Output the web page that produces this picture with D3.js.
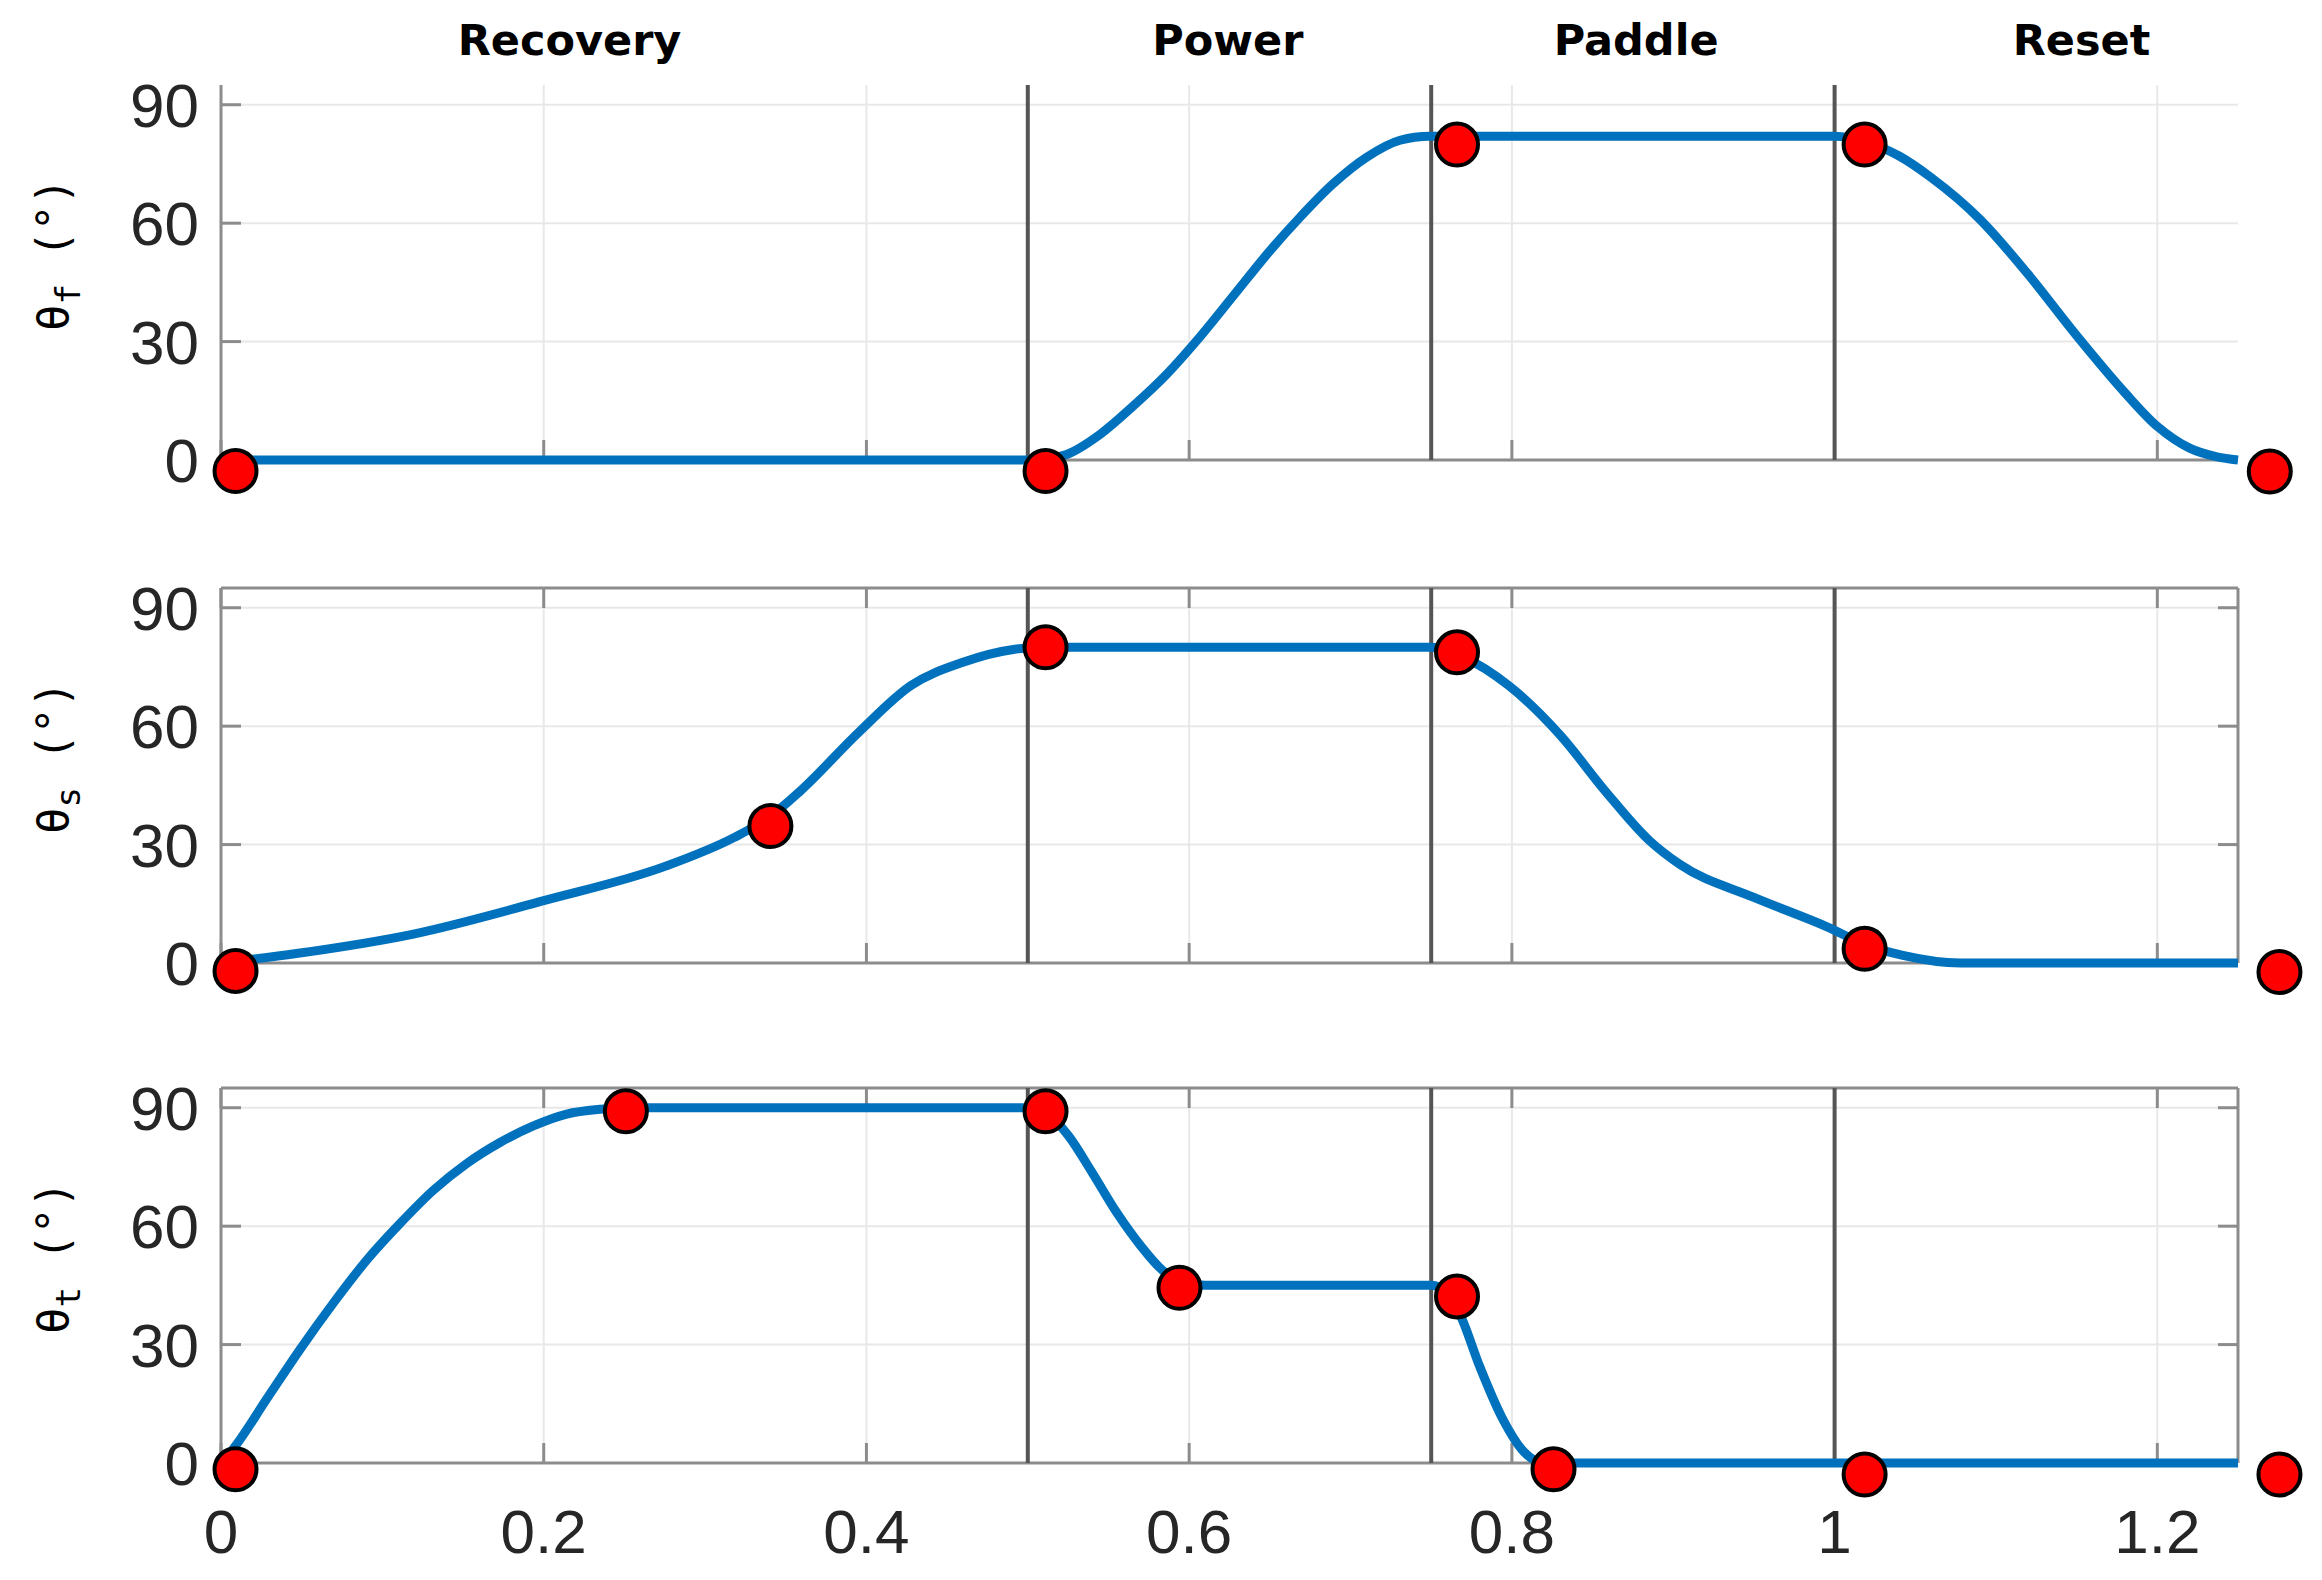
<!DOCTYPE html>
<html>
<head>
<meta charset="utf-8">
<script src="https://cdn.jsdelivr.net/npm/d3@7/dist/d3.min.js"></script>
<style>
  html, body { margin: 0; padding: 0; background: #ffffff; }
  svg { display: block; }
</style>
</head>
<body>
<script>
// ---------- data ----------
const xTicks = [0, 0.2, 0.4, 0.6, 0.8, 1, 1.2];
const xTickLabels = ["0", "0.2", "0.4", "0.6", "0.8", "1", "1.2"];
const yTicks = [0, 30, 60, 90];
const yTickLabels = ["0", "30", "60", "90"];
const phaseBounds = [0.5, 0.75, 1.0];
const phaseNames = ["Recovery", "Power", "Paddle", "Reset"];
const phaseLabelX = [0.216, 0.624, 0.877, 1.153];

const thetaF_t = [0, 0.5, 0.512, 0.524, 0.5448, 0.5654, 0.586, 0.6067, 0.6274, 0.648, 0.6687, 0.6893, 0.710, 0.7307, 0.749, 1.0, 1.02, 1.04, 1.06, 1.09, 1.12, 1.15, 1.18, 1.2, 1.22, 1.237, 1.25];
const thetaF_v = [0, 0, 0.3, 1.4, 6.5, 13.7, 21.7, 31.2, 41.6, 52.0, 61.5, 70.0, 76.7, 81.0, 82, 82, 80.5, 77, 71.5, 61, 47, 31.5, 17, 8.5, 3, 0.8, 0];
const thetaF_mt = [0.009, 0.511, 0.766, 1.0186, 1.2697];
const thetaF_mv = [-2.8, -2.8, 79.9, 79.9, -2.9];

const thetaS_t = [0, 0.0467, 0.12, 0.2, 0.276, 0.3175, 0.34, 0.3588, 0.3956, 0.4276, 0.4598, 0.492, 0.51, 0.75, 0.77, 0.798, 0.83, 0.858, 0.8855, 0.904, 0.95, 0.9957, 1.02, 1.0416, 1.078, 1.25];
const thetaS_v = [0, 2.4, 7.4, 15.8, 24.6, 31.7, 37, 43.5, 58.6, 70.3, 76.2, 79.5, 80, 80, 77.5, 70.3, 57.7, 43.5, 30.9, 25, 16.6, 9.1, 4.5, 2, 0, 0];
const thetaS_mt = [0.009, 0.3405, 0.511, 0.766, 1.0186, 1.2757];
const thetaS_mv = [-2.0, 34.7, 80.0, 78.7, 3.6, -2.3];

const thetaT_t = [0, 0.0076, 0.0283, 0.049, 0.0696, 0.0903, 0.111, 0.1316, 0.152, 0.1729, 0.1936, 0.2142, 0.2349, 0.2556, 0.5, 0.512, 0.525, 0.54, 0.555, 0.57, 0.583, 0.595, 0.61, 0.75, 0.76, 0.768, 0.78, 0.794, 0.8075, 0.82, 1.25];
const thetaT_v = [0, 3.6, 16.2, 28.8, 40.5, 51.4, 60.7, 69.1, 75.8, 81.2, 85.4, 88.4, 89.6, 90, 90, 88.5, 83, 73.5, 63.5, 55, 49, 46, 45, 45, 43, 37.5, 24.5, 11.4, 2.8, 0, 0];
const thetaT_mt = [0.009, 0.2509, 0.511, 0.594, 0.766, 0.8258, 1.0186, 1.2757];
const thetaT_mv = [-1.6, 89.1, 89.1, 44.4, 42.2, -1.6, -2.9, -2.9];

const panelSub = ["f", "s", "t"];

// ---------- layout ----------
const W = 2322, H = 1580;
const left = 221, right = 2238;
const panelTops = [85, 588, 1088];
const panelH = 375;
const fullBox = [false, true, true];

const svg = d3.select("body").append("svg").attr("width", W).attr("height", H);

const x = d3.scaleLinear().domain([0, 1.25]).range([left, right]);

const panels = [
  { t: thetaF_t, v: thetaF_v, mt: thetaF_mt, mv: thetaF_mv },
  { t: thetaS_t, v: thetaS_v, mt: thetaS_mt, mv: thetaS_mv },
  { t: thetaT_t, v: thetaT_v, mt: thetaT_mt, mv: thetaT_mv }
];

const gridColor = "#e8e8e8";
const axisColor = "#8c8c8c";
const tickLen = 20;

panels.forEach((p, i) => {
  const top = panelTops[i], bottom = top + panelH;
  const y = d3.scaleLinear().domain([0, 95]).range([bottom, top]);
  const g = svg.append("g");

  // gridlines
  g.selectAll(".gx").data(xTicks.slice(1)).enter().append("line")
    .attr("x1", d => x(d)).attr("x2", d => x(d))
    .attr("y1", top).attr("y2", bottom)
    .attr("stroke", gridColor).attr("stroke-width", 2);
  g.selectAll(".gy").data(yTicks.slice(1)).enter().append("line")
    .attr("x1", left).attr("x2", right)
    .attr("y1", d => y(d)).attr("y2", d => y(d))
    .attr("stroke", gridColor).attr("stroke-width", 2);

  // axes lines
  g.append("line").attr("x1", left).attr("x2", left).attr("y1", top).attr("y2", bottom)
    .attr("stroke", axisColor).attr("stroke-width", 3);
  g.append("line").attr("x1", left).attr("x2", right).attr("y1", bottom).attr("y2", bottom)
    .attr("stroke", axisColor).attr("stroke-width", 3);
  if (fullBox[i]) {
    g.append("line").attr("x1", left).attr("x2", right).attr("y1", top).attr("y2", top)
      .attr("stroke", axisColor).attr("stroke-width", 3);
    g.append("line").attr("x1", right).attr("x2", right).attr("y1", top).attr("y2", bottom)
      .attr("stroke", axisColor).attr("stroke-width", 3);
  }

  // ticks
  g.selectAll(".ty").data(yTicks).enter().append("line")
    .attr("x1", left).attr("x2", left + tickLen)
    .attr("y1", d => y(d)).attr("y2", d => y(d))
    .attr("stroke", axisColor).attr("stroke-width", 3);
  g.selectAll(".tx").data(xTicks).enter().append("line")
    .attr("x1", d => x(d)).attr("x2", d => x(d))
    .attr("y1", bottom).attr("y2", bottom - tickLen)
    .attr("stroke", axisColor).attr("stroke-width", 3);
  if (fullBox[i]) {
    g.selectAll(".tyr").data(yTicks).enter().append("line")
      .attr("x1", right).attr("x2", right - tickLen)
      .attr("y1", d => y(d)).attr("y2", d => y(d))
      .attr("stroke", axisColor).attr("stroke-width", 3);
    g.selectAll(".txt").data(xTicks).enter().append("line")
      .attr("x1", d => x(d)).attr("x2", d => x(d))
      .attr("y1", top).attr("y2", top + tickLen)
      .attr("stroke", axisColor).attr("stroke-width", 3);
  }

  // y tick labels
  g.selectAll(".yl").data(yTicks).enter().append("text")
    .attr("x", left - 22).attr("y", d => y(d))
    .attr("dy", "0.36em")
    .attr("text-anchor", "end")
    .attr("font-family", "'Liberation Sans', Arial, sans-serif")
    .attr("font-size", 62)
    .attr("fill", "#262626")
    .text((d, k) => yTickLabels[k]);

  // y axis label
  const cy = (top + bottom) / 2 - 18;
  const lab = g.append("text")
    .attr("transform", `translate(68,${cy}) rotate(-90)`)
    .attr("text-anchor", "middle")
    .attr("font-family", "'DejaVu Sans Mono', monospace")
    .attr("font-size", 44)
    .attr("fill", "#000");
  lab.append("tspan").text("θ");
  lab.append("tspan").attr("dy", 12).attr("font-size", 34).text(panelSub[i]);
  lab.append("tspan").attr("dy", -12).text(" (°)");

  // phase boundary lines
  g.selectAll(".pb").data(phaseBounds).enter().append("line")
    .attr("x1", d => x(d)).attr("x2", d => x(d))
    .attr("y1", top).attr("y2", bottom)
    .attr("stroke", "#555555").attr("stroke-width", 4);

  // data line
  const pts = p.t.map((t, k) => [t, p.v[k]]);
  const line = d3.line().x(d => x(d[0])).y(d => y(d[1])).curve(d3.curveMonotoneX);
  g.append("path").datum(pts).attr("d", line)
    .attr("fill", "none").attr("stroke", "#0072BD").attr("stroke-width", 9)
    .attr("stroke-linejoin", "round").attr("stroke-linecap", "butt");

  // markers
  const mk = p.mt.map((t, k) => [t, p.mv[k]]);
  g.selectAll(".mk").data(mk).enter().append("circle")
    .attr("cx", d => x(d[0])).attr("cy", d => y(d[1]))
    .attr("r", 21)
    .attr("fill", "#ff0000").attr("stroke", "#000").attr("stroke-width", 4);

  // x tick labels for bottom panel
  if (i === 2) {
    g.selectAll(".xl").data(xTicks).enter().append("text")
      .attr("x", d => x(d)).attr("y", 1553)
      .attr("text-anchor", "middle")
      .attr("font-family", "'Liberation Sans', Arial, sans-serif")
      .attr("font-size", 62)
      .attr("fill", "#262626")
      .text((d, k) => xTickLabels[k]);
  }
});

// phase labels
svg.selectAll(".ph").data(phaseNames).enter().append("text")
  .attr("x", (d, k) => x(phaseLabelX[k])).attr("y", 55)
  .attr("text-anchor", "middle")
  .attr("font-family", "'DejaVu Sans', Verdana, sans-serif")
  .attr("font-weight", "bold")
  .attr("font-size", 43)
  .attr("fill", "#000")
  .text(d => d);
</script>
</body>
</html>
